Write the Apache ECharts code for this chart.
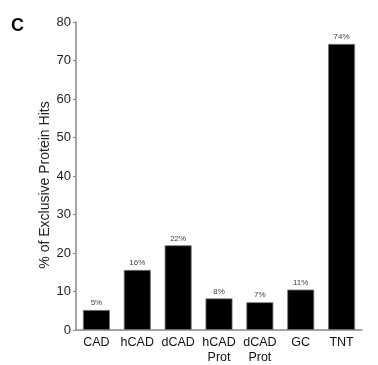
<!DOCTYPE html>
<html><head><meta charset="utf-8">
<script src="https://cdn.jsdelivr.net/npm/echarts@6/dist/echarts.min.js"></script>
<style>html,body{margin:0;padding:0;background:#fff}#c{width:378px;height:365px}</style>
</head><body><div id="c"></div>
<script>
const categories = ['CAD', 'hCAD', 'dCAD', 'hCAD\nProt', 'dCAD\nProt', 'GC', 'TNT'];
const values = [5.2, 15.6, 22.0, 8.2, 7.2, 10.5, 74.3];
const labels = ['5%', '16%', '22%', '8%', '7%', '11%', '74%'];
const yTicks = [0, 10, 20, 30, 40, 50, 60, 70, 80];
const yTitle = '% of Exclusive Protein Hits';

const chart = echarts.init(document.getElementById('c'), null, {renderer: 'canvas'});
chart.setOption({
  animation: false,
  textStyle: {fontFamily: 'Liberation Sans, Arial, sans-serif'},
  graphic: [
    {type: 'text', left: 11, top: 17, style: {text: 'C', font: 'bold 18px Liberation Sans, Arial, sans-serif', fill: '#000'}},
    {type: 'text', x: 45, y: 185, rotation: Math.PI / 2,
      style: {text: yTitle, font: '14px Liberation Sans, Arial, sans-serif', fill: '#222', align: 'center', verticalAlign: 'middle'}}
  ],
  grid: {left: 76, top: 22, right: 16, bottom: 32, containLabel: false},
  xAxis: {
    type: 'category', data: categories,
    axisLine: {lineStyle: {color: '#888', width: 1.5}},
    axisTick: {show: false},
    axisLabel: {color: '#111', fontSize: 12.5, margin: 5, lineHeight: 15, interval: 0}
  },
  yAxis: {
    type: 'value', min: yTicks[0], max: yTicks[yTicks.length - 1], interval: 10,
    axisLine: {show: true, lineStyle: {color: '#888', width: 1.5}},
    axisTick: {show: true, length: 3, lineStyle: {color: '#888'}},
    axisLabel: {color: '#222', fontSize: 13, margin: 5},
    splitLine: {show: false}
  },
  series: [{
    type: 'bar', data: values, barWidth: '66%',
    itemStyle: {color: '#000', borderColor: '#777', borderWidth: 0.8},
    label: {show: true, position: 'top', distance: 3, fontSize: 8, color: '#444',
      formatter: p => labels[p.dataIndex]}
  }]
});
</script></body></html>
